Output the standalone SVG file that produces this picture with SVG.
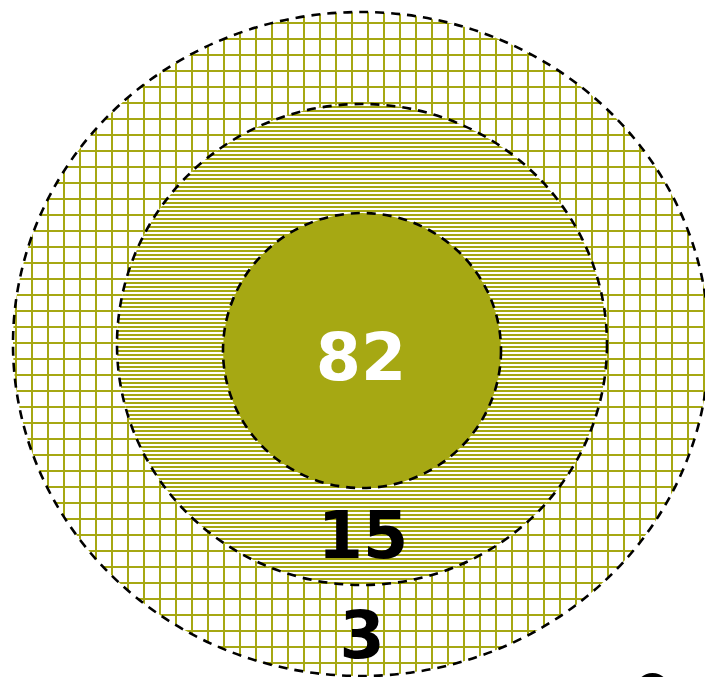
<svg xmlns="http://www.w3.org/2000/svg" width="705" height="677" viewBox="0 0 705 677">
  <defs>
    <pattern id="grid" patternUnits="userSpaceOnUse" x="-1" y="6" width="16" height="16">
      <rect x="0" y="0" width="2" height="16" fill="#a6a813" shape-rendering="crispEdges"/>
      <rect x="0" y="0" width="16" height="2" fill="#a6a813" shape-rendering="crispEdges"/>
    </pattern>
    <pattern id="hlines" patternUnits="userSpaceOnUse" x="0" y="2" width="16" height="4">
      <rect x="0" y="0" width="16" height="2" fill="#a6a813" shape-rendering="crispEdges"/>
    </pattern>
  </defs>
  <style>
    .ring { stroke: #000; stroke-width: 2.6; stroke-dasharray: 9 7; }
    .num { font-family: "DejaVu Sans", Verdana, sans-serif; font-weight: bold; font-size: 65px; text-anchor: middle; }
  </style>
  <rect width="705" height="677" fill="#fff"/>
  <g id="outer">
    <ellipse cx="361" cy="344" rx="348" ry="332" fill="#fff"/>
    <ellipse cx="361" cy="344" rx="348" ry="332" fill="url(#grid)" class="ring"/>
    <text class="num" x="362" y="658" fill="#000">3</text>
  </g>
  <g id="middle">
    <ellipse cx="362" cy="344.5" rx="245" ry="240.5" fill="#fff"/>
    <ellipse cx="362" cy="344.5" rx="245" ry="240.5" fill="url(#hlines)" class="ring"/>
    <text class="num" x="363" y="558" fill="#000">15</text>
  </g>
  <g id="inner">
    <ellipse cx="362" cy="350.5" rx="139" ry="137.5" fill="#a6a813" class="ring"/>
    <text class="num" x="361" y="380" fill="#fff">82</text>
  </g>
  <g id="corner">
    <ellipse cx="652.5" cy="690" rx="17" ry="17" fill="#000"/>
  </g>
  <g id="connectors"/>
</svg>
